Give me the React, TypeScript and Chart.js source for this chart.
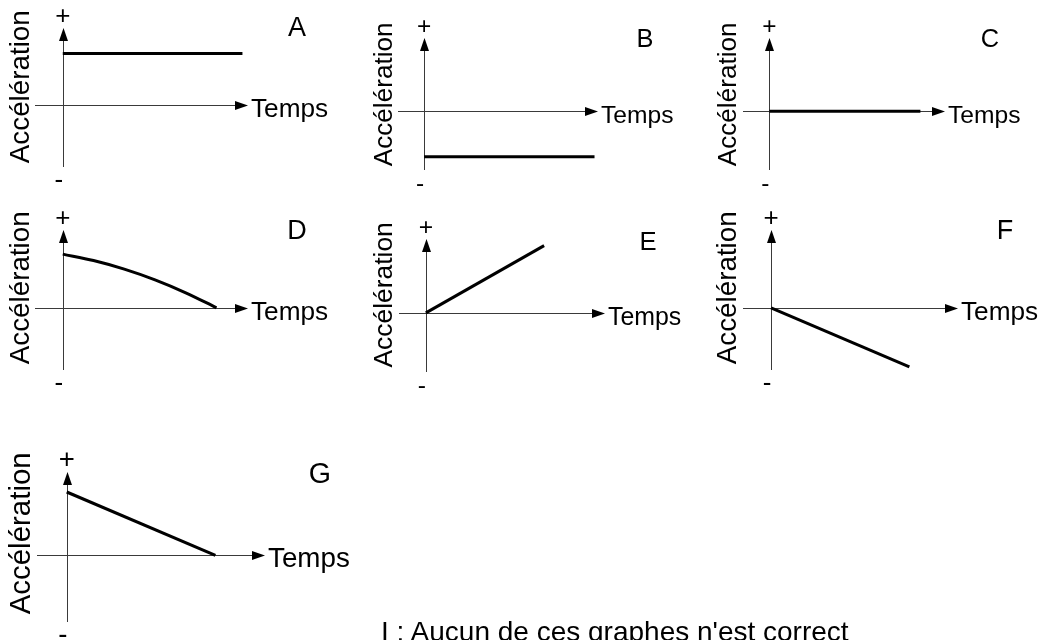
import React, { useEffect, useRef } from "react";
import { Chart, registerables } from "chart.js";

Chart.register(...registerables);

// ---- Data (time in arbitrary units, acceleration in arbitrary units) ----
const LETTERS = ["A", "B", "C", "D", "E", "F", "G"];

const TIME_A = [0, 0.97];
const ACC_A = [0.67, 0.67];

const TIME_B = [0, 0.98];
const ACC_B = [-0.62, -0.62];

const TIME_C = [0, 0.86];
const ACC_C = [0, 0];

const TIME_D = [0, 0.166, 0.332, 0.498, 0.664, 0.83];
const ACC_D = [0.69, 0.607, 0.497, 0.359, 0.193, 0];

const TIME_E = [0, 0.66];
const ACC_E = [0, 0.91];

const TIME_F = [0, 0.74];
const ACC_F = [0, -0.76];

const TIME_G = [0, 0.75];
const ACC_G = [0.76, 0];

const X_LABEL = "Temps";
const Y_LABEL = "Accélération";
const PLUS = "+";
const MINUS = "-";
const FOOTNOTE = "I : Aucun de ces graphes n'est correct";

const X_RANGE = [-0.15, 1];
const Y_RANGE = [-0.8, 1];

// ---- Layout (page pixels) ----
const W = 1042;
const H = 640;
const FONT = "'Liberation Sans', Arial, Helvetica, sans-serif";
const AXIS_COLOR = "#3a3a3a";

type Frame = { left: number; top: number; right: number; bottom: number };
type PanelLayout = {
  frame: Frame;
  letterDx: number;
  letterDy: number;
  scale: number;
  labelDx: number;
  labelDy: number;
};

const LAYOUT: PanelLayout[] = [
  { frame: { left: 35, top: 28, right: 248, bottom: 167 }, letterDx: 49, letterDy: 1, scale: 1, labelDx: -41, labelDy: -18.5 },
  { frame: { left: 398, top: 38, right: 598, bottom: 170 }, letterDx: 47, letterDy: 2, scale: 0.94, labelDx: -39, labelDy: -17 },
  { frame: { left: 743, top: 38, right: 945, bottom: 170 }, letterDx: 45, letterDy: 2, scale: 0.94, labelDx: -41, labelDy: -17 },
  { frame: { left: 35, top: 230, right: 248, bottom: 370 }, letterDx: 49, letterDy: 2, scale: 1, labelDx: -41, labelDy: -20 },
  { frame: { left: 399, top: 239, right: 605, bottom: 372 }, letterDx: 43, letterDy: 4, scale: 0.95, labelDx: -41, labelDy: -18 },
  { frame: { left: 743, top: 230, right: 958, bottom: 370 }, letterDx: 47, letterDy: 2, scale: 1, labelDx: -43, labelDy: -20 },
  { frame: { left: 37, top: 472, right: 265, bottom: 622 }, letterDx: 55, letterDy: 3, scale: 1.06, labelDx: -45, labelDy: -22 },
];

const SERIES = [
  { t: TIME_A, a: ACC_A, smooth: false },
  { t: TIME_B, a: ACC_B, smooth: false },
  { t: TIME_C, a: ACC_C, smooth: false },
  { t: TIME_D, a: ACC_D, smooth: true },
  { t: TIME_E, a: ACC_E, smooth: false },
  { t: TIME_F, a: ACC_F, smooth: false },
  { t: TIME_G, a: ACC_G, smooth: false },
];

function makeDecor(letter: string, layout: PanelLayout) {
  const k = layout.scale;
  return {
    id: "decor" + letter,
    beforeDatasetsDraw(chart: any) {
      const { ctx, chartArea: a, scales } = chart;
      const x0 = Math.round(scales.x.getPixelForValue(0)) + 0.5;
      const y0 = Math.round(scales.y.getPixelForValue(0)) + 0.5;
      ctx.save();
      ctx.strokeStyle = AXIS_COLOR;
      ctx.lineWidth = 1;
      ctx.beginPath();
      ctx.moveTo(a.left, y0);
      ctx.lineTo(a.right - 10, y0);
      ctx.moveTo(x0, a.bottom);
      ctx.lineTo(x0, a.top + 10);
      ctx.stroke();
      ctx.fillStyle = "#000";
      ctx.beginPath();
      ctx.moveTo(a.right, y0);
      ctx.lineTo(a.right - 13, y0 - 4.5);
      ctx.lineTo(a.right - 13, y0 + 4.5);
      ctx.closePath();
      ctx.fill();
      ctx.beginPath();
      ctx.moveTo(x0, a.top);
      ctx.lineTo(x0 - 4.5, a.top + 13);
      ctx.lineTo(x0 + 4.5, a.top + 13);
      ctx.closePath();
      ctx.fill();
      ctx.restore();
    },
    afterDraw(chart: any) {
      const { ctx, chartArea: a, scales } = chart;
      const x0 = scales.x.getPixelForValue(0);
      const y0 = scales.y.getPixelForValue(0);
      ctx.save();
      ctx.fillStyle = "#000";
      // + / -
      ctx.font = `${26 * k}px ${FONT}`;
      ctx.textAlign = "center";
      ctx.textBaseline = "alphabetic";
      ctx.fillText(PLUS, x0, a.top - 4);
      ctx.fillText(MINUS, x0 - 4, a.bottom + 21);
      // Temps
      ctx.font = `${26.2 * k}px ${FONT}`;
      ctx.textAlign = "left";
      ctx.fillText(X_LABEL, a.right + 3, y0 + 12);
      // Letter
      ctx.font = `${27 * k}px ${FONT}`;
      ctx.textAlign = "center";
      ctx.textBaseline = "middle";
      ctx.fillText(letter, a.right + layout.letterDx, a.top + layout.letterDy);
      // Accélération (vertical)
      ctx.font = `${27.8 * k}px ${FONT}`;
      ctx.translate(x0 + layout.labelDx, y0 + layout.labelDy);
      ctx.rotate(-Math.PI / 2);
      ctx.textAlign = "center";
      ctx.textBaseline = "middle";
      ctx.fillText(Y_LABEL, 0, 0);
      ctx.restore();
    },
  };
}

function Panel({ index }: { index: number }) {
  const ref = useRef<HTMLCanvasElement | null>(null);
  useEffect(() => {
    if (!ref.current) return;
    const s = SERIES[index];
    const layout = LAYOUT[index];
    const f = layout.frame;
    const points = s.t.map((t, i) => ({ x: t, y: s.a[i] }));
    const chart = new Chart(ref.current, {
      type: "line",
      data: {
        datasets: [
          {
            data: points,
            borderColor: "#000",
            borderWidth: 3,
            pointRadius: 0,
            fill: false,
            tension: 0,
            cubicInterpolationMode: s.smooth ? "monotone" : "default",
            borderCapStyle: "butt",
          } as any,
        ],
      },
      options: {
        animation: false,
        responsive: false,
        events: [],
        layout: {
          padding: { left: f.left, top: f.top, right: W - f.right, bottom: H - f.bottom },
        },
        plugins: { legend: { display: false }, tooltip: { enabled: false } },
        scales: {
          x: { type: "linear", min: X_RANGE[0], max: X_RANGE[1], display: false },
          y: { type: "linear", min: Y_RANGE[0], max: Y_RANGE[1], display: false },
        },
      },
      plugins: [makeDecor(LETTERS[index], layout)],
    } as any);
    return () => chart.destroy();
  }, [index]);
  return (
    <canvas
      ref={ref}
      width={W}
      height={H}
      style={{ position: "absolute", left: 0, top: 0, width: W, height: H }}
    />
  );
}

export default function App() {
  return (
    <div
      style={{
        position: "fixed",
        left: 0,
        top: 0,
        width: W,
        height: H,
        overflow: "hidden",
        background: "#fff",
      }}
    >
      {LETTERS.map((l, i) => (
        <Panel key={l} index={i} />
      ))}
      <div
        style={{
          position: "absolute",
          left: 381,
          top: 618,
          font: `28px ${FONT}`,
          lineHeight: "28px",
          color: "#000",
          whiteSpace: "nowrap",
        }}
      >
        {FOOTNOTE}
      </div>
    </div>
  );
}
